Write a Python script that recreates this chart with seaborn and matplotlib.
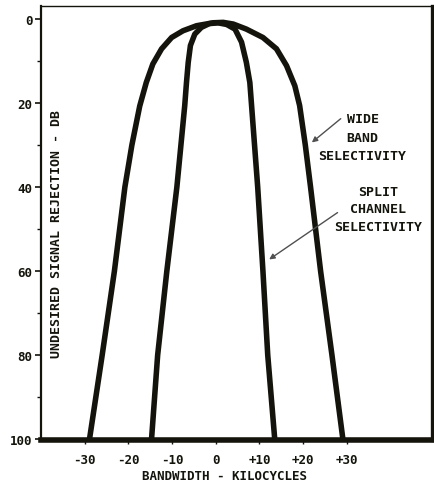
import matplotlib
matplotlib.use("Agg")
import matplotlib.pyplot as plt
import seaborn as sns

# wide band selectivity curve (kilocycles, dB rejection)
wide_kc = [-28.9, -26.0, -23.2, -20.8, -19.2, -17.4, -15.9, -14.4, -12.4, -10.1, -7.5, -4.4,
           -0.6, 1.7, 4.0, 7.0, 10.8, 13.9, 16.2, 18.1, 19.2, 20.5, 21.7, 24.0, 26.6, 29.1]
wide_db = [100, 80, 60, 40, 30, 20.7, 15.1, 10.7, 7.1, 4.4, 2.8, 1.6,
           0.9, 0.8, 1.2, 2.4, 4.4, 7.1, 11.1, 15.9, 20.6, 30, 40, 60, 80, 100]

# split channel selectivity curve
split_kc = [-14.7, -13.3, -11.2, -8.9, -7.1, -6.7, -6.3, -5.8, -4.8, -3.3, -1.5,
            0.5, 2.5, 4.4, 5.9, 7.0, 7.8, 8.2, 9.6, 10.8, 11.9, 13.5]
split_db = [100, 80, 60, 40, 20.6, 15.1, 10.3, 6.3, 3.6, 2.0, 1.1,
            0.9, 1.3, 2.4, 5.5, 10.3, 15.1, 20.6, 40, 60, 80, 100]

x_ticks = [-30, -20, -10, 0, 10, 20, 30]
x_labels = ["-30", "-20", "-10", "0", "+10", "+20", "+30"]
y_ticks = [0, 20, 40, 60, 80, 100]
y_minor = [10, 30, 50, 70, 90]

ink = "#14140c"

sns.set_style("white")
plt.rcParams["font.family"] = ["DejaVu Sans Mono"]
plt.rcParams["font.weight"] = "bold"

fig = plt.figure(figsize=(4.34, 4.85), dpi=100)
ax = fig.add_axes([0.0945, 0.0907, 0.9009, 0.8949])

for kc, db in [(wide_kc, wide_db), (split_kc, split_db)]:
    sns.lineplot(x=kc, y=db, sort=False, estimator=None, color=ink, lw=4,
                 solid_joinstyle="round", solid_capstyle="butt", ax=ax)

ax.set_xlim(-40, 49.5)
ax.set_ylim(100.2, -3.1)

ax.set_xticks(x_ticks)
ax.set_xticklabels(x_labels, fontsize=9, fontweight="bold", color=ink)
ax.set_yticks(y_ticks)
ax.set_yticks(y_minor, minor=True)
ax.set_yticklabels([str(v) for v in y_ticks], fontsize=9, fontweight="bold", color=ink)
ax.tick_params(axis="y", which="major", direction="out", length=4, width=1.2, color=ink, pad=2, left=True)
ax.tick_params(axis="y", which="minor", direction="out", length=3, width=1.0, color=ink, left=True)
ax.tick_params(axis="x", direction="out", length=3, width=1.0, color=ink, pad=6, bottom=True)

for side, w in [("left", 1.6), ("right", 2.4), ("top", 1.0), ("bottom", 4.0)]:
    ax.spines[side].set_visible(True)
    ax.spines[side].set_color(ink)
    ax.spines[side].set_linewidth(w)

ax.set_xlabel("BANDWIDTH - KILOCYCLES", fontsize=9, fontweight="bold", color=ink)
ax.xaxis.label.set_va("center")
ax.xaxis.set_label_coords(0.47, -0.082)
ax.set_ylabel("")
ax.text(-36.4, 51, "UNDESIRED SIGNAL REJECTION - DB", rotation=90, ha="center", va="center",
        fontsize=9.5, fontweight="bold", color=ink)

arrow = dict(arrowstyle="-|>", color="#505050", lw=1.0, mutation_scale=8)
ax.annotate("", xy=(21.5, 29.8), xytext=(29.1, 23.3), arrowprops=arrow)
ax.text(33.6, 28.1, "WIDE\nBAND\nSELECTIVITY", ha="center", va="center", linespacing=1.55,
        fontsize=9.5, fontweight="bold", color=ink)
ax.annotate("", xy=(11.7, 57.6), xytext=(28.4, 45.7), arrowprops=arrow)
ax.text(37.1, 45.2, "SPLIT\nCHANNEL\nSELECTIVITY", ha="center", va="center", linespacing=1.45,
        fontsize=9.5, fontweight="bold", color=ink)

fig.savefig("out.png", dpi=100)
